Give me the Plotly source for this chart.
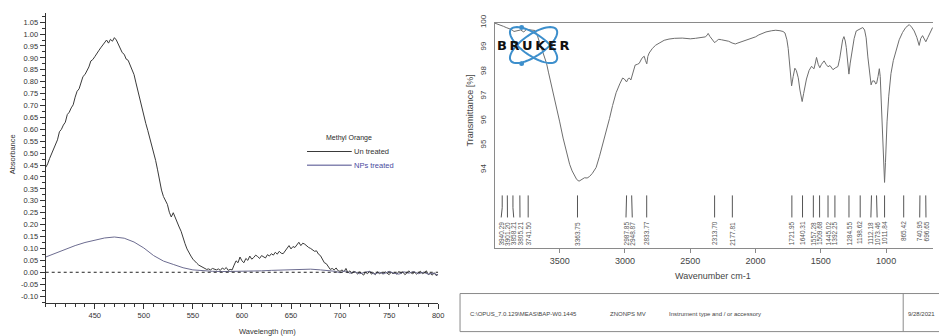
import math
import numpy as np
import plotly.graph_objects as go

# ---------------- UV-Vis: Methyl Orange ----------------
UV_WAVELENGTH = list(range(400, 801, 2))
UV_UNTREATED = [
    0.440, 0.455, 0.478, 0.497, 0.519, 0.530, 0.556, 0.590, 0.600, 0.618,
    0.630, 0.662, 0.672, 0.690, 0.703, 0.735, 0.760, 0.770, 0.800, 0.822,
    0.830, 0.846, 0.862, 0.887, 0.893, 0.905, 0.915, 0.930, 0.942, 0.952,
    0.966, 0.975, 0.962, 0.978, 0.970, 0.985, 0.975, 0.955, 0.935, 0.922,
    0.915, 0.895, 0.890, 0.872, 0.850, 0.830, 0.795, 0.760, 0.722, 0.688,
    0.655, 0.625, 0.596, 0.566, 0.540, 0.505, 0.470, 0.430, 0.385, 0.345,
    0.318, 0.300, 0.285, 0.252, 0.232, 0.250, 0.228, 0.210, 0.190, 0.172,
    0.140, 0.120, 0.098, 0.080, 0.068, 0.055, 0.044, 0.038, 0.030, 0.026,
    0.020, 0.016, 0.012, 0.014, 0.010, 0.016, 0.012, 0.010, 0.014, 0.008,
    0.018, 0.012, 0.020, 0.008, 0.012, 0.010, 0.030, 0.048, 0.040, 0.064,
    0.048, 0.040, 0.058, 0.050, 0.068, 0.055, 0.062, 0.072, 0.066, 0.058,
    0.070, 0.064, 0.060, 0.074, 0.068, 0.078, 0.072, 0.084, 0.076, 0.088,
    0.080, 0.078, 0.090, 0.100, 0.112, 0.098, 0.108, 0.104, 0.118, 0.126,
    0.112, 0.122, 0.118, 0.110, 0.104, 0.100, 0.095, 0.088, 0.090, 0.076,
    0.070, 0.052, 0.040, 0.036, 0.024, 0.012, 0.016, 0.010, 0.018, 0.006,
    0.004, 0.010, 0.002, 0.016, -0.002, 0.006, -0.006, 0.004, 0.000, -0.008,
    0.002, -0.004, -0.012, 0.000, -0.006, 0.004, -0.008, -0.002, -0.010, 0.002,
    -0.006, -0.002, -0.008, 0.002, -0.004, -0.010, 0.000, -0.006, -0.002, -0.008,
    0.004, -0.006, 0.002, -0.010, -0.004, 0.006, -0.002, -0.006, 0.000, -0.008,
    -0.002, 0.004, -0.006, -0.002, 0.006, -0.010, -0.004, -0.012, -0.002, -0.014,
    -0.008,
]
NPS_WAVELENGTH = [
    400, 410, 420, 430, 440, 450, 460, 470, 480, 490,
    500, 510, 520, 530, 540, 550, 560, 570, 580, 590,
    600, 610, 620, 630, 640, 650, 660, 670, 680, 690,
    695, 700, 705, 710, 715, 720, 725, 730, 735, 740,
    745, 750, 755, 760, 765, 770, 775, 780, 785, 790,
    795, 800,
]
NPS_TREATED = [
    0.064, 0.081, 0.097, 0.112, 0.125, 0.136, 0.144, 0.148, 0.143, 0.127,
    0.102, 0.070, 0.047, 0.033, 0.019, 0.010, 0.006, 0.004, 0.003, 0.003,
    0.004, 0.005, 0.006, 0.008, 0.010, 0.012, 0.014, 0.013, 0.010, 0.006,
    0.004, -0.002, 0.006, -0.004, 0.002, -0.006, -0.002, 0.004, -0.008, 0.000,
    -0.006, 0.004, -0.004, -0.008, 0.002, -0.004, 0.003, -0.006, 0.000, -0.008,
    -0.004, -0.012,
]
UV_X_TICKS = [450, 500, 550, 600, 650, 700, 750, 800]
UV_Y_TICKS = [round(-0.10 + 0.05 * i, 2) for i in range(24)]
UV_Y_TICKTEXT = ["%.2f" % v for v in UV_Y_TICKS]

# ---------------- FTIR spectrum ----------------
IR_WAVENUMBER = [
    3997, 3960, 3931, 3910, 3893, 3870, 3850, 3830, 3800, 3775,
    3754, 3720, 3690, 3670, 3652, 3625, 3601, 3585, 3576, 3563,
    3545, 3525, 3500, 3474, 3450, 3424, 3405, 3386, 3370, 3352,
    3330, 3310, 3290, 3272, 3250, 3221, 3195, 3170, 3145, 3119,
    3095, 3068, 3040, 3018, 3005, 2988, 2975, 2967, 2955, 2940,
    2922, 2905, 2891, 2870, 2853, 2843, 2833, 2825, 2815, 2790,
    2765, 2739, 2700, 2663, 2620, 2561, 2536, 2500, 2460, 2420,
    2383, 2370, 2363, 2350, 2330, 2313, 2300, 2282, 2260, 2240,
    2206, 2180, 2155, 2135, 2117, 2080, 2050, 2028, 2000, 1975,
    1952, 1920, 1876, 1845, 1813, 1790, 1775, 1760, 1750, 1740,
    1732, 1724, 1712, 1699, 1688, 1673, 1660, 1650, 1643, 1632,
    1620, 1610, 1590, 1571, 1562, 1552, 1542, 1533, 1520, 1508,
    1495, 1486, 1475, 1460, 1445, 1430, 1407, 1390, 1369, 1355,
    1343, 1333, 1323, 1313, 1305, 1295, 1285, 1275, 1262, 1245,
    1229, 1200, 1179, 1165, 1153, 1140, 1125, 1115, 1105, 1090,
    1080, 1073, 1062, 1052, 1045, 1038, 1030, 1022, 1016, 1012,
    1005, 998, 993, 980, 963, 945, 925, 900, 874, 850,
    823, 805, 785, 765, 747, 735, 721, 708, 696, 680,
    660, 644,
]
IR_TRANSMITTANCE = [
    99.98, 99.92, 99.85, 99.80, 99.77, 99.72, 99.64, 99.66, 99.70, 99.62,
    99.73, 99.70, 99.68, 99.45, 99.14, 98.75, 98.34, 97.95, 97.74, 97.54,
    97.10, 96.61, 95.95, 95.29, 94.75, 94.22, 93.95, 93.76, 93.60, 93.53,
    93.62, 93.67, 93.66, 93.72, 93.85, 94.09, 94.55, 95.02, 95.55, 96.08,
    96.62, 97.14, 97.50, 97.74, 97.70, 97.58, 97.72, 97.74, 97.66, 97.95,
    98.27, 98.30, 98.34, 98.55, 98.63, 98.45, 98.32, 98.62, 98.76, 98.95,
    99.08, 99.16, 99.28, 99.33, 99.36, 99.37, 99.35, 99.34, 99.36, 99.38,
    99.42, 99.50, 99.56, 99.44, 99.30, 99.18, 99.25, 99.32, 99.30, 99.28,
    99.24, 99.17, 99.13, 99.17, 99.20, 99.26, 99.31, 99.35, 99.42, 99.50,
    99.56, 99.62, 99.67, 99.69, 99.67, 99.64, 99.58, 99.30, 98.95, 98.40,
    97.80, 97.42, 97.80, 98.14, 98.05, 97.75, 97.25, 96.95, 96.78, 97.10,
    97.45, 97.70, 98.05, 98.22, 98.16, 98.12, 98.35, 98.58, 98.30, 98.16,
    98.30, 98.36, 98.44, 98.30, 98.20, 98.25, 98.08, 98.15, 98.21, 98.55,
    99.00, 99.30, 99.43, 99.25, 98.98, 98.40, 97.90, 98.35, 98.87, 99.35,
    99.66, 99.76, 99.80, 99.70, 99.38, 98.60, 97.85, 97.46, 97.62, 97.62,
    97.50, 97.52, 97.80, 98.12, 97.80, 97.00, 96.00, 94.80, 93.90, 93.48,
    94.30, 95.30, 95.95, 97.00, 97.92, 98.45, 98.86, 99.30, 99.60, 99.80,
    99.92, 99.82, 99.66, 99.40, 99.07, 99.35, 99.47, 99.32, 99.22, 99.40,
    99.62, 99.80,
]
IR_PEAKS = [
    3940.29, 3901.20, 3858.21, 3805.21, 3741.50, 3363.75, 2987.85, 2948.87,
    2833.77, 2313.70, 2177.81, 1721.95, 1640.31, 1557.28, 1509.68, 1445.02,
    1392.25, 1284.55, 1198.62, 1112.18, 1073.46, 1011.84, 865.42, 740.95,
    696.65,
]
IR_X_TICKS = [3500, 3000, 2500, 2000, 1500, 1000]
IR_Y_TICKS = [94, 95, 96, 97, 98, 99, 100]

FOOTER_PATH = "C:\\OPUS_7.0.129\\MEAS\\BAP-W0.1445"
FOOTER_SAMPLE = "ZNONPS MV"
FOOTER_INSTRUMENT = "Instrument type and / or accessory"
FOOTER_DATE = "9/28/2021"

W, H = 939, 336
FONT = "Arial, Liberation Sans, sans-serif"


def px(x):
    return x / W


def py(y):
    return 1 - y / H


def text_at(x, y, text, size, color="#333333", xanchor="center", angle=0, family=FONT):
    return dict(x=px(x), y=py(y), xref="paper", yref="paper", text=text,
                xanchor=xanchor, yanchor="middle", textangle=angle, showarrow=False,
                font=dict(family=family, size=size, color=color))


def spread_labels(values, gap):
    """Spread label positions (descending wavenumber) so neighbours keep a minimum gap."""
    groups = [[v] for v in sorted(values, reverse=True)]

    def extent(g):
        c = sum(g) / len(g)
        half = (len(g) - 1) / 2 * gap
        return c + half, c - half

    changed = True
    while changed:
        changed = False
        merged = []
        for g in groups:
            if merged:
                _, prev_low = extent(merged[-1])
                cur_high, _ = extent(g)
                if prev_low - cur_high < gap:
                    merged[-1] = merged[-1] + g
                    changed = True
                    continue
            merged.append(g)
        groups = merged
    out = {}
    for g in groups:
        hi, _ = extent(g)
        for i, v in enumerate(g):
            out[v] = hi - i * gap
    return [out[v] for v in values]


fig = go.Figure()

# UV-Vis traces
fig.add_trace(go.Scatter(
    x=UV_WAVELENGTH, y=UV_UNTREATED, mode="lines", name="Un treated",
    line=dict(color="#3a3a3a", width=1), xaxis="x", yaxis="y", showlegend=False,
))
fig.add_trace(go.Scatter(
    x=NPS_WAVELENGTH, y=NPS_TREATED, mode="lines", name="NPs treated",
    line=dict(color="#6c6c90", width=1), xaxis="x", yaxis="y", showlegend=False,
))

# FTIR trace
fig.add_trace(go.Scatter(
    x=IR_WAVENUMBER, y=IR_TRANSMITTANCE, mode="lines", name="ZNONPS MV",
    line=dict(color="#6e6e6e", width=1), xaxis="x2", yaxis="y2", showlegend=False,
))

# Peak pick markers with leader lines
label_pos = spread_labels(IR_PEAKS, 48)
lx, ly = [], []
for w, lw in zip(IR_PEAKS, label_pos):
    lx += [w, w, lw, None]
    ly += [92.95, 92.45, 92.05, None]
fig.add_trace(go.Scatter(
    x=lx, y=ly, mode="lines", line=dict(color="#555555", width=1),
    xaxis="x2", yaxis="y2", showlegend=False, hoverinfo="skip",
))

annotations = []
for w, lw in zip(IR_PEAKS, label_pos):
    annotations.append(dict(
        x=lw, y=91.97, xref="x2", yref="y2", text="%.2f" % w, textangle=-90,
        xanchor="center", yanchor="top", showarrow=False,
        font=dict(family=FONT, size=6.5, color="#555555"),
    ))

# axis titles and legend text for the UV-Vis panel
annotations += [
    text_at(13, 150, "Absorbance", 7.5, angle=-90),
    text_at(269, 331, "Wavelength (nm)", 7.5),
    text_at(351, 133, "Methyl Orange", 7, color="#2a2a2a"),
    text_at(354, 147, "Un treated", 7.5, xanchor="left"),
    text_at(354, 161, "NPs treated", 7.5, color="#4a4aa0", xanchor="left"),
]

# FTIR titles, logo text and footer
annotations += [
    text_at(473, 105, "Transmittance [%]", 9, color="#444444", angle=-90),
    text_at(718, 275, "Wavenumber cm-1", 9, color="#444444"),
    text_at(536, 38, "<b>B\u2009R\u2009U\u2009K\u2009E\u2009R</b>", 13, color="#111111",
            family="DejaVu Sans, sans-serif"),
    text_at(471, 313, FOOTER_PATH, 6, color="#444444", xanchor="left"),
    text_at(612, 313, FOOTER_SAMPLE, 6, color="#444444", xanchor="left"),
    text_at(671, 313, FOOTER_INSTRUMENT, 6, color="#444444", xanchor="left"),
    text_at(912, 313, FOOTER_DATE, 6, color="#444444", xanchor="left"),
]

shapes = [
    # zero baseline
    dict(type="line", xref="x", yref="y", x0=400, x1=800, y0=0, y1=0,
         line=dict(color="#222222", width=1, dash="dot")),
    # legend swatches
    dict(type="line", xref="paper", yref="paper", x0=px(309), x1=px(354), y0=py(147), y1=py(147),
         line=dict(color="#3a3a3a", width=1)),
    dict(type="line", xref="paper", yref="paper", x0=px(309), x1=px(354), y0=py(161), y1=py(161),
         line=dict(color="#4a4a8a", width=1)),
    # footer frame
    dict(type="rect", xref="paper", yref="paper", x0=px(463), x1=1.01, y0=py(331.5), y1=py(292.5),
         line=dict(color="#8a8a8a", width=1)),
    dict(type="line", xref="paper", yref="paper", x0=px(909), x1=px(909), y0=py(331.5), y1=py(292.5),
         line=dict(color="#8a8a8a", width=1)),
]


def ellipse_path(cx, cy, a, b, ang_deg, n=60):
    t = math.radians(ang_deg)
    pts = []
    for k in range(n + 1):
        s = 2 * math.pi * k / n
        ex, ey = a * math.cos(s), b * math.sin(s)
        x = cx + ex * math.cos(t) - ey * math.sin(t)
        y = cy + ex * math.sin(t) + ey * math.cos(t)
        pts.append("%.5f,%.5f" % (px(x), py(y)))
    return "M" + " L".join(pts) + " Z"


# logo orbits
for ang in (35, -35):
    shapes.append(dict(type="path", xref="paper", yref="paper",
                       path=ellipse_path(537, 38, 28, 11, ang),
                       line=dict(color="#3d8fcc", width=2), layer="above"))
for cx, cy in ((525, 20), (525, 57)):
    shapes.append(dict(type="circle", xref="paper", yref="paper",
                       x0=px(cx - 2.5), x1=px(cx + 2.5), y0=py(cy + 2.5), y1=py(cy - 2.5),
                       fillcolor="#3d8fcc", line=dict(color="#3d8fcc", width=0)))

fig.update_layout(
    width=W, height=H,
    margin=dict(l=0, r=0, t=0, b=0),
    paper_bgcolor="white", plot_bgcolor="white",
    font=dict(family=FONT, color="#333333"),
    annotations=annotations,
    shapes=shapes,
    xaxis=dict(
        domain=[px(46), px(441)], range=[400, 800], anchor="y",
        showline=True, linecolor="#333333", linewidth=1, showgrid=False, zeroline=False,
        ticks="outside", ticklen=5, tickcolor="#333333", tickvals=UV_X_TICKS,
        tickfont=dict(size=7.5, color="#333333"),
        minor=dict(dtick=10, tick0=400, ticks="outside", ticklen=3, tickcolor="#333333", showgrid=False),
    ),
    yaxis=dict(
        domain=[py(301.7), py(5)], range=[-0.127, 1.089], anchor="x",
        showline=True, linecolor="#333333", linewidth=1, showgrid=False, zeroline=False,
        ticks="outside", ticklen=5, tickcolor="#333333",
        tickvals=UV_Y_TICKS, ticktext=UV_Y_TICKTEXT,
        tickfont=dict(size=7.5, color="#333333"),
        minor=dict(dtick=0.025, tick0=0, ticks="outside", ticklen=3, tickcolor="#333333", showgrid=False),
    ),
    xaxis2=dict(
        domain=[px(498), 1.0], range=[3997, 641], anchor="y2",
        showline=True, mirror=True, linecolor="#8a8a8a", linewidth=1, showgrid=False, zeroline=False,
        ticks="outside", ticklen=4, tickcolor="#8a8a8a", tickvals=IR_X_TICKS,
        tickfont=dict(size=9, color="#444444"),
    ),
    yaxis2=dict(
        domain=[py(245.7), py(15)], range=[90.81, 100], anchor="x2",
        showline=True, linecolor="#8a8a8a", linewidth=1, showgrid=False, zeroline=False,
        ticks="", tickvals=IR_Y_TICKS, tickangle=-90, ticklabelstandoff=5,
        tickfont=dict(size=8, color="#444444"),
    ),
)

fig.write_html("out.html")
